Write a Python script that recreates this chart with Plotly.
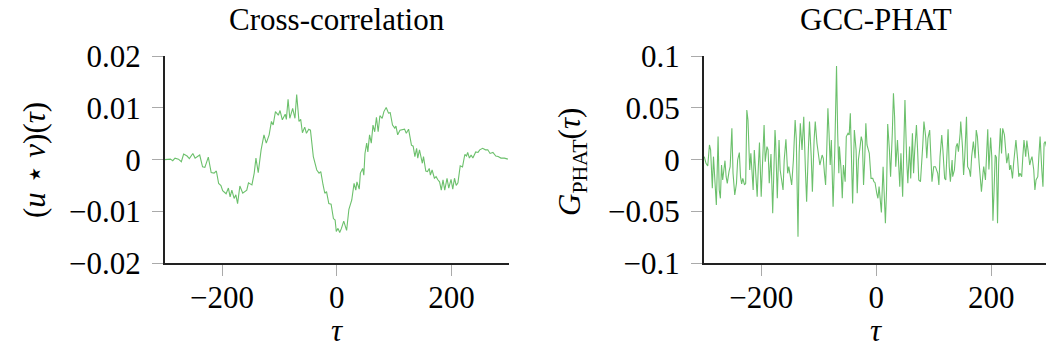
import plotly.graph_objects as go

# ---- data: cross-correlation (u * v)(tau) ----
cc_tau = [-300, -290, -286, -282, -276, -271, -267, -261, -257, -251, -247, -239, -234, -230, -224,
          -219, -214, -210, -206, -202, -199, -193, -189, -186, -183, -179, -176, -173, -169, -164,
          -157, -154, -148, -144, -141, -137, -132, -127, -123, -118, -114, -111, -107, -102, -99,
          -95, -90, -88, -85, -82, -77, -73, -70, -66, -63, -60, -56, -53, -49, -46,
          -41, -35, -31, -28, -24, -21, -18, -14, -10, -6, -3, -1, 2, 5, 8,
          12, 17, 21, 26, 30, 33, 35, 39, 41, 45, 47, 49, 52, 54, 57,
          60, 63, 66, 69, 72, 75, 79, 82, 86, 90, 93, 97, 101, 103, 106,
          110, 118, 121, 125, 127, 130, 133, 136, 139, 141, 144, 149, 151, 155, 158,
          161, 163, 166, 170, 173, 176, 179, 182, 185, 188, 192, 195, 199, 202, 205,
          208, 211, 215, 219, 223, 226, 228, 231, 234, 237, 242, 246, 249, 254, 259,
          263, 267, 272, 277, 281, 286, 292, 298]
cc_val = [0.0000, 0.0001, -0.0002, 0.0003, 0.0001, -0.0004, 0.0011, 0.0007, 0.0002, 0.0012, 0.0003, 0.0009, -0.0014, -0.0015, 0.0005,
          -0.0025, -0.0026, -0.0022, -0.0046, -0.0050, -0.0060, -0.0066, -0.0055, -0.0072, -0.0059, -0.0075, -0.0068, -0.0085, -0.0051, -0.0065,
          -0.0059, -0.0045, -0.0049, -0.0026, 0.0003, -0.0025, 0.0019, 0.0048, 0.0032, 0.0048, 0.0074, 0.0067, 0.0093, 0.0086, 0.0095,
          0.0077, 0.0088, 0.0078, 0.0117, 0.0080, 0.0099, 0.0080, 0.0126, 0.0074, 0.0078, 0.0052, 0.0063, 0.0051, 0.0059, 0.0057,
          0.0006, -0.0020, -0.0026, -0.0023, -0.0049, -0.0065, -0.0062, -0.0085, -0.0086, -0.0114, -0.0117, -0.0139, -0.0133, -0.0141, -0.0133,
          -0.0119, -0.0137, -0.0096, -0.0078, -0.0046, -0.0059, -0.0043, -0.0057, -0.0026, -0.0017, -0.0030, 0.0012, 0.0032, 0.0015, 0.0048,
          0.0032, 0.0067, 0.0054, 0.0082, 0.0054, 0.0085, 0.0080, 0.0093, 0.0101, 0.0090, 0.0091, 0.0067, 0.0061, 0.0065, 0.0048,
          0.0057, 0.0059, 0.0051, 0.0059, 0.0048, 0.0028, 0.0026, 0.0006, 0.0022, 0.0003, 0.0019, -0.0007, 0.0006, -0.0022, -0.0023,
          -0.0017, -0.0030, -0.0020, -0.0036, -0.0033, -0.0039, -0.0043, -0.0059, -0.0039, -0.0059, -0.0036, -0.0055, -0.0038, -0.0057, -0.0036,
          -0.0050, -0.0045, -0.0012, -0.0014, 0.0010, 0.0007, 0.0014, 0.0003, 0.0009, 0.0003, 0.0015, 0.0014, 0.0019, 0.0022, 0.0019,
          0.0019, 0.0012, 0.0014, 0.0007, 0.0006, 0.0003, 0.0003, 0.0001]

# ---- data: GCC-PHAT G_PHAT(tau) ----
gp_tau = [-299, -296, -293, -290, -288, -285, -283, -281, -278, -275, -273, -271, -269, -267, -264,
          -263, -261, -259, -256, -254, -251, -249, -246, -243, -241, -238, -236, -234, -232, -229,
          -227, -225, -223, -220, -218, -214, -212, -209, -207, -205, -203, -200, -197, -195, -193,
          -190, -188, -186, -183, -180, -176, -175, -172, -169, -167, -165, -162, -160, -157, -154,
          -152, -150, -147, -144, -141, -139, -136, -134, -132, -129, -126, -123, -121, -118, -116,
          -113, -111, -108, -106, -103, -100, -98, -94, -92, -90, -88, -86, -84, -82, -80,
          -78, -75, -72, -70, -69, -67, -65, -64, -61, -59, -57, -54, -52, -49, -47,
          -45, -43, -41, -38, -35, -33, -31, -28, -26, -24, -22, -20, -18, -16, -13,
          -12, -9, -6, -4, -2, 1, 3, 5, 8, 9, 12, 14, 16, 18, 20,
          23, 25, 28, 30, 32, 34, 37, 39, 41, 43, 46, 48, 50, 53, 55,
          58, 60, 63, 65, 67, 70, 72, 74, 77, 79, 81, 83, 86, 88, 90,
          93, 95, 97, 100, 103, 107, 109, 111, 114, 116, 119, 121, 123, 125, 127,
          129, 132, 133, 136, 139, 141, 143, 146, 147, 150, 152, 154, 157, 159, 162,
          164, 166, 169, 172, 174, 176, 179, 181, 183, 186, 187, 190, 192, 194, 196,
          199, 201, 203, 205, 207, 209, 211, 213, 216, 218, 220, 223, 225, 227, 230,
          232, 234, 237, 239, 241, 243, 246, 248, 250, 253, 255, 257, 260, 262, 264,
          267, 269, 271, 274, 276, 278, 281, 283, 285, 288, 290, 292, 294, 296]
gp_val = [0.0029, -0.0035, -0.0061, 0.0142, 0.0094, -0.0277, 0.0029, -0.0165, -0.0439, 0.0223, -0.0294, -0.0374, -0.0052, -0.0197, -0.0052,
          -0.0010, -0.0165, -0.0229, -0.0116, -0.0068, 0.0303, -0.0132, -0.0342, -0.0229, -0.0003, 0.0068, -0.0165, -0.0235, -0.0181, -0.0245,
          -0.0229, 0.0481, 0.0384, -0.0100, 0.0061, -0.0294, 0.0094, -0.0132, -0.0358, -0.0068, 0.0165, -0.0358, 0.0094, 0.0335, -0.0019,
          0.0126, 0.0094, -0.0229, 0.0055, -0.0519, 0.0287, 0.0190, -0.0374, 0.0190, -0.0100, -0.0197, -0.0294, -0.0003, 0.0197, -0.0132,
          -0.0068, -0.0139, -0.0245, -0.0003, 0.0384, 0.0206, -0.0745, 0.0061, 0.0352, 0.0094, 0.0416, -0.0116, -0.0406, 0.0094, 0.0368,
          0.0029, -0.0310, 0.0190, 0.0368, 0.0158, -0.0003, -0.0052, 0.0045, 0.0013, -0.0132, -0.0245, 0.0094, 0.0497, 0.0255, -0.0052,
          0.0190, -0.0455, 0.0094, 0.0868, 0.0906, 0.0255, -0.0132, 0.0126, -0.0100, -0.0374, -0.0052, -0.0213, 0.0223, 0.0255, 0.0239,
          0.0448, -0.0132, -0.0423, 0.0287, 0.0094, -0.0326, -0.0003, 0.0126, 0.0223, 0.0174, -0.0245, -0.0003, 0.0352, 0.0142, 0.0094,
          0.0061, -0.0181, -0.0181, -0.0213, -0.0223, -0.0326, -0.0374, -0.0261, -0.0423, -0.0510, -0.0068, -0.0374, -0.0616, -0.0294, 0.0345,
          0.0094, -0.0165, 0.0255, 0.0642, 0.0416, -0.0068, 0.0190, -0.0003, -0.0261, 0.0061, -0.0358, 0.0126, 0.0577, -0.0003, -0.0229,
          0.0126, -0.0181, 0.0255, -0.0132, 0.0094, 0.0335, 0.0094, -0.0197, -0.0213, -0.0068, 0.0142, 0.0368, 0.0223, 0.0013, 0.0206,
          0.0287, 0.0013, -0.0213, -0.0068, -0.0068, -0.0132, -0.0245, 0.0029, 0.0239, 0.0094, -0.0181, -0.0197, 0.0094, 0.0294, -0.0068,
          -0.0213, -0.0003, -0.0165, -0.0100, 0.0126, 0.0158, 0.0077, 0.0255, 0.0368, 0.0126, -0.0148, 0.0029, 0.0416, -0.0068, -0.0100,
          -0.0165, 0.0029, 0.0174, 0.0013, 0.0287, 0.0223, -0.0035, -0.0229, -0.0310, -0.0116, -0.0068, -0.0197, 0.0126, 0.0294, -0.0094,
          0.0213, 0.0029, -0.0590, -0.0294, 0.0045, 0.0023, -0.0616, -0.0035, 0.0303, 0.0061, 0.0303, 0.0239, 0.0077, -0.0035, 0.0061,
          -0.0100, -0.0052, -0.0181, -0.0035, 0.0094, 0.0190, -0.0003, -0.0165, -0.0132, -0.0165, 0.0029, 0.0190, 0.0029, 0.0184, 0.0094,
          -0.0052, -0.0003, 0.0029, -0.0100, -0.0294, -0.0197, -0.0165, 0.0045, 0.0223, -0.0100, -0.0261, 0.0158, 0.0174, 0.0126]

x_ticks = [-200, 0, 200]
x_ticktext = ["\u2212200", "0", "200"]
cc_yticks = [-0.02, -0.01, 0, 0.01, 0.02]
cc_yticktext = ["\u22120.02", "\u22120.01", "0", "0.01", "0.02"]
gp_yticks = [-0.1, -0.05, 0, 0.05, 0.1]
gp_yticktext = ["\u22120.1", "\u22120.05", "0", "0.05", "0.1"]

W, H = 1046, 350
FONT = "Liberation Serif"
FS = 31
LINE_COLOR = "#6cc06c"

fig = go.Figure()
fig.add_trace(go.Scatter(x=cc_tau, y=cc_val, mode="lines", line=dict(color=LINE_COLOR, width=1.1),
                         xaxis="x", yaxis="y", showlegend=False))
fig.add_trace(go.Scatter(x=gp_tau, y=gp_val, mode="lines", line=dict(color=LINE_COLOR, width=1.1),
                         xaxis="x2", yaxis="y2", showlegend=False))

def px(x):
    return x / W

def py(y):
    return 1 - y / H

ydom = [py(263), py(56.3)]
axis_common = dict(showline=True, linecolor="#222", linewidth=1.5, ticks="outside", ticklen=11,
                   tickcolor="#aaa", tickwidth=1.3, showgrid=False, zeroline=False, automargin=False,
                   tickfont=dict(family=FONT, size=FS, color="black"))

fig.update_layout(
    width=W, height=H, autosize=False,
    margin=dict(l=0, r=0, t=0, b=0, pad=0, autoexpand=False),
    plot_bgcolor="white", paper_bgcolor="white",
    xaxis=dict(domain=[px(164.7), px(509)], range=[-300, 300], tickvals=x_ticks, ticktext=x_ticktext,
               anchor="y", ticklabelstandoff=-5, **axis_common),
    yaxis=dict(domain=ydom, range=[-0.02, 0.02], tickvals=cc_yticks, ticktext=cc_yticktext,
               anchor="x", ticklabelstandoff=5, **axis_common),
    xaxis2=dict(domain=[px(703.7), 1.0], range=[-300, 295.3], tickvals=x_ticks, ticktext=x_ticktext,
                anchor="y2", ticklabelstandoff=-5, **axis_common),
    yaxis2=dict(domain=ydom, range=[-0.1, 0.1], tickvals=gp_yticks, ticktext=gp_yticktext,
                anchor="x2", ticklabelstandoff=5, **axis_common),
)

ann_font = dict(family=FONT, size=FS, color="black")
annotations = [
    dict(text="Cross-correlation", x=px(337), y=1, xref="paper", yref="paper",
         xanchor="center", yanchor="top", showarrow=False, font=ann_font),
    dict(text="GCC-PHAT", x=px(876), y=1, xref="paper", yref="paper",
         xanchor="center", yanchor="top", showarrow=False, font=ann_font),
    dict(text="<i>\u03c4</i>", x=px(337), y=0, xref="paper", yref="paper",
         xanchor="center", yanchor="bottom", showarrow=False, font=ann_font),
    dict(text="<i>\u03c4</i>", x=px(876), y=0, xref="paper", yref="paper",
         xanchor="center", yanchor="bottom", showarrow=False, font=ann_font),
    dict(text="(<i>u</i> \u22c6 <i>v</i>)(<i>\u03c4</i>)", x=px(35), y=py(160), xref="paper", yref="paper",
         xanchor="center", yanchor="middle", textangle=-90, showarrow=False, font=ann_font),
    dict(text="<i>G</i><sub>PHAT</sub>(<i>\u03c4</i>)", x=px(572), y=py(162), xref="paper", yref="paper",
         xanchor="center", yanchor="middle", textangle=-90, showarrow=False, font=ann_font),
]
fig.update_layout(annotations=annotations)

fig.write_html("out.html")
